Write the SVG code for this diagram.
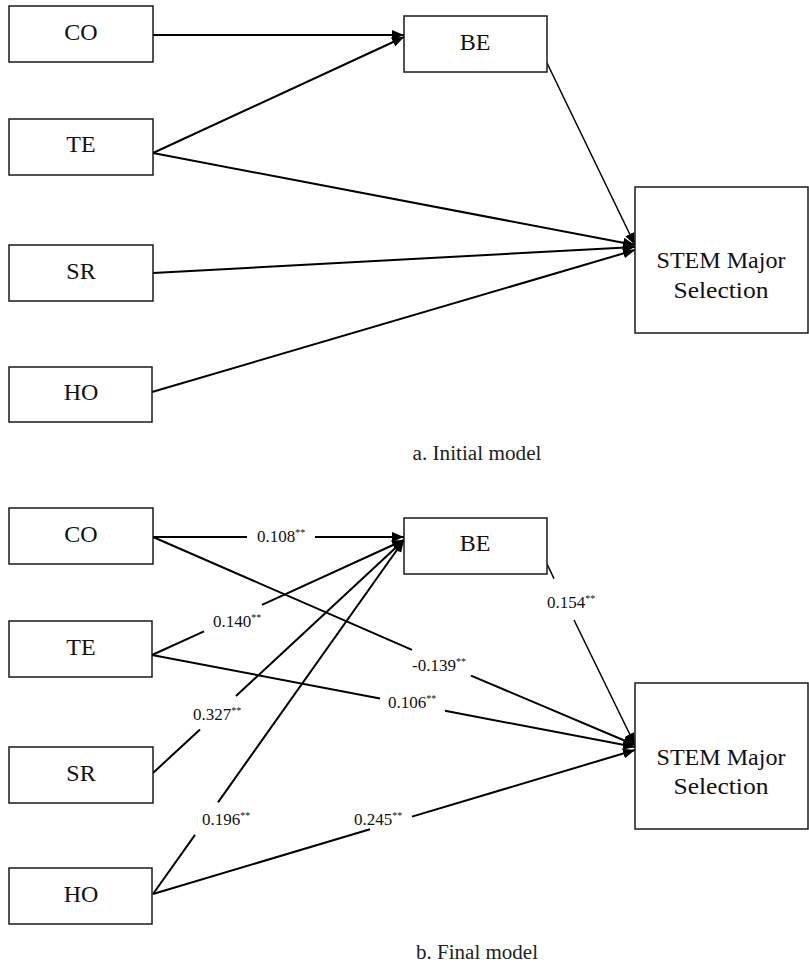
<svg xmlns="http://www.w3.org/2000/svg" width="809" height="965" viewBox="0 0 809 965">
<defs>
<marker id="ah" markerUnits="userSpaceOnUse" markerWidth="13" markerHeight="11" refX="12" refY="5" orient="auto">
<path d="M0,0 L12,5 L0,10 z" fill="#000"/>
</marker>
<style>
.box{fill:#fff;stroke:#1a1a1a;stroke-width:1.5}
.edge{stroke:#000;stroke-width:2;fill:none}
.thin{stroke-width:1.5}
</style>
</defs>
<rect width="809" height="965" fill="#fff"/>

<g font-family="'Liberation Serif', 'Times New Roman', serif">
<!-- a. Initial model -->
<g id="connectors-a">
<line class="edge" x1="153" y1="35" x2="404" y2="35" marker-end="url(#ah)"/>
<line class="edge" x1="153" y1="153" x2="404" y2="37" marker-end="url(#ah)"/>
<line class="edge" x1="153" y1="153" x2="635" y2="245" marker-end="url(#ah)"/>
<line class="edge thin" x1="547" y1="63" x2="635" y2="245" marker-end="url(#ah)"/>
<line class="edge" x1="153" y1="273" x2="635" y2="247" marker-end="url(#ah)"/>
<line class="edge" x1="152" y1="392" x2="635" y2="250" marker-end="url(#ah)"/>
</g>
<g font-size="24" fill="#111" text-anchor="middle">
<g id="a-CO"><rect class="box" x="9" y="6" width="144" height="56"/><text x="81" y="40">CO</text></g>
<g id="a-TE"><rect class="box" x="9" y="119" width="144" height="56"/><text x="81" y="152">TE</text></g>
<g id="a-SR"><rect class="box" x="9" y="245" width="144" height="56"/><text x="81" y="279">SR</text></g>
<g id="a-HO"><rect class="box" x="9" y="367" width="143" height="55"/><text x="81" y="400">HO</text></g>
<g id="a-BE"><rect class="box" x="404" y="16" width="143" height="56"/><text x="475" y="50">BE</text></g>
<g id="a-STEM"><rect class="box" x="635" y="187" width="173" height="146"/><text x="721" y="268" textLength="129" lengthAdjust="spacingAndGlyphs">STEM Major</text><text x="721" y="298" textLength="95" lengthAdjust="spacingAndGlyphs">Selection</text></g>
</g>
<text x="477" y="460" font-size="20" fill="#222" text-anchor="middle" textLength="129" lengthAdjust="spacingAndGlyphs">a. Initial model</text>

<!-- b. Final model -->
<g id="connectors-b">
<line class="edge" x1="153" y1="537" x2="247" y2="537"/>
<line class="edge" x1="315" y1="537" x2="404" y2="537" marker-end="url(#ah)"/>
<line class="edge" x1="153" y1="537" x2="412" y2="649.8"/>
<line class="edge" x1="471" y1="675.6" x2="635" y2="745" marker-end="url(#ah)"/>
<line class="edge" x1="152" y1="655" x2="204" y2="631.3"/>
<line class="edge" x1="262" y1="604.8" x2="404" y2="540" marker-end="url(#ah)"/>
<line class="edge" x1="152" y1="655" x2="380" y2="698.4"/>
<line class="edge" x1="445" y1="710.8" x2="635" y2="747" marker-end="url(#ah)"/>
<line class="edge" x1="153" y1="773" x2="200" y2="729.4"/>
<line class="edge" x1="236" y1="696" x2="404" y2="540" marker-end="url(#ah)"/>
<line class="edge" x1="153" y1="894" x2="195" y2="834.8"/>
<line class="edge" x1="218" y1="802.3" x2="404" y2="540" marker-end="url(#ah)"/>
<line class="edge" x1="153" y1="894" x2="370" y2="829.2"/>
<line class="edge" x1="412" y1="816.6" x2="635" y2="750" marker-end="url(#ah)"/>
<line class="edge thin" x1="547" y1="564" x2="554" y2="578.6"/>
<line class="edge thin" x1="574" y1="620" x2="635" y2="745" marker-end="url(#ah)"/>
</g>
<g id="edge-labels" font-size="17" fill="#111">
<text x="257" y="542">0.108<tspan font-size="10" dy="-6">**</tspan></text>
<text x="412" y="671">-0.139<tspan font-size="10" dy="-6">**</tspan></text>
<text x="213" y="627">0.140<tspan font-size="10" dy="-6">**</tspan></text>
<text x="388" y="708">0.106<tspan font-size="10" dy="-6">**</tspan></text>
<text x="193" y="720">0.327<tspan font-size="10" dy="-6">**</tspan></text>
<text x="202" y="825">0.196<tspan font-size="10" dy="-6">**</tspan></text>
<text x="354" y="825">0.245<tspan font-size="10" dy="-6">**</tspan></text>
<text x="547" y="608">0.154<tspan font-size="10" dy="-6">**</tspan></text>
</g>
<g font-size="24" fill="#111" text-anchor="middle">
<g id="b-CO"><rect class="box" x="9" y="508" width="144" height="56"/><text x="81" y="542">CO</text></g>
<g id="b-TE"><rect class="box" x="9" y="621" width="143" height="56"/><text x="81" y="655">TE</text></g>
<g id="b-SR"><rect class="box" x="9" y="747" width="144" height="56"/><text x="81" y="781">SR</text></g>
<g id="b-HO"><rect class="box" x="9" y="868" width="143" height="56"/><text x="81" y="902">HO</text></g>
<g id="b-BE"><rect class="box" x="404" y="518" width="143" height="56"/><text x="475" y="551">BE</text></g>
<g id="b-STEM"><rect class="box" x="635" y="683" width="173" height="146"/><text x="721" y="765" textLength="129" lengthAdjust="spacingAndGlyphs">STEM Major</text><text x="721" y="794" textLength="95" lengthAdjust="spacingAndGlyphs">Selection</text></g>
</g>
<text x="477" y="959" font-size="20" fill="#222" text-anchor="middle" textLength="122" lengthAdjust="spacingAndGlyphs">b. Final model</text>
</g>
</svg>
